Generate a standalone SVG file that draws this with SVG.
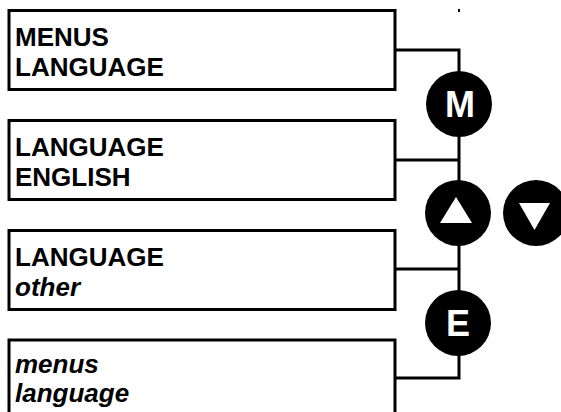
<svg xmlns="http://www.w3.org/2000/svg" width="561" height="412" viewBox="0 0 561 412">
<style>
.box{fill:#fff;stroke:#000;stroke-width:3}
.t{font-family:"Liberation Sans",Arial,sans-serif;font-weight:bold;font-size:26px;fill:#000}
.i{font-style:italic}
.btn{fill:#000}
.bl{font-family:"Liberation Sans",Arial,sans-serif;font-weight:bold;font-size:36px;fill:#fff;text-anchor:middle}
.w{fill:#fff}
.c{fill:none;stroke:#000;stroke-width:3}
</style>
<rect width="561" height="412" fill="#fff"/>
<g id="connectors">
<path class="c" d="M395 50H459V378H395"/>
<path class="c" d="M395 160H459M395 269H459"/>
<rect x="458" y="9" width="2" height="3" fill="#000"/>
</g>
<g id="box1">
<rect class="box" x="9" y="10.5" width="386" height="79"/>
<text class="t" x="15" y="46">MENUS</text>
<text class="t" x="15" y="76">LANGUAGE</text>
</g>
<g id="box2">
<rect class="box" x="9" y="120.5" width="386" height="79"/>
<text class="t" x="15" y="156">LANGUAGE</text>
<text class="t" x="15" y="186">ENGLISH</text>
</g>
<g id="box3">
<rect class="box" x="9" y="230.5" width="386" height="79"/>
<text class="t" x="15" y="266">LANGUAGE</text>
<text class="t i" x="15" y="296">other</text>
</g>
<g id="box4">
<rect class="box" x="9" y="340" width="386" height="79"/>
<text class="t i" x="15" y="373">menus</text>
<text class="t i" x="15" y="402">language</text>
</g>
<g id="btnM">
<circle class="btn" cx="459" cy="104" r="33"/>
<text class="bl" x="460" y="117">M</text>
</g>
<g id="btnUp">
<circle class="btn" cx="458" cy="213" r="33"/>
<polygon class="w" points="456,197 440,223 472,223"/>
</g>
<g id="btnDown">
<circle class="btn" cx="536" cy="213" r="33"/>
<polygon class="w" points="519,203 550,203 534.5,230"/>
</g>
<g id="btnE">
<circle class="btn" cx="458" cy="323" r="33"/>
<text class="bl" x="458" y="336">E</text>
</g>
</svg>
